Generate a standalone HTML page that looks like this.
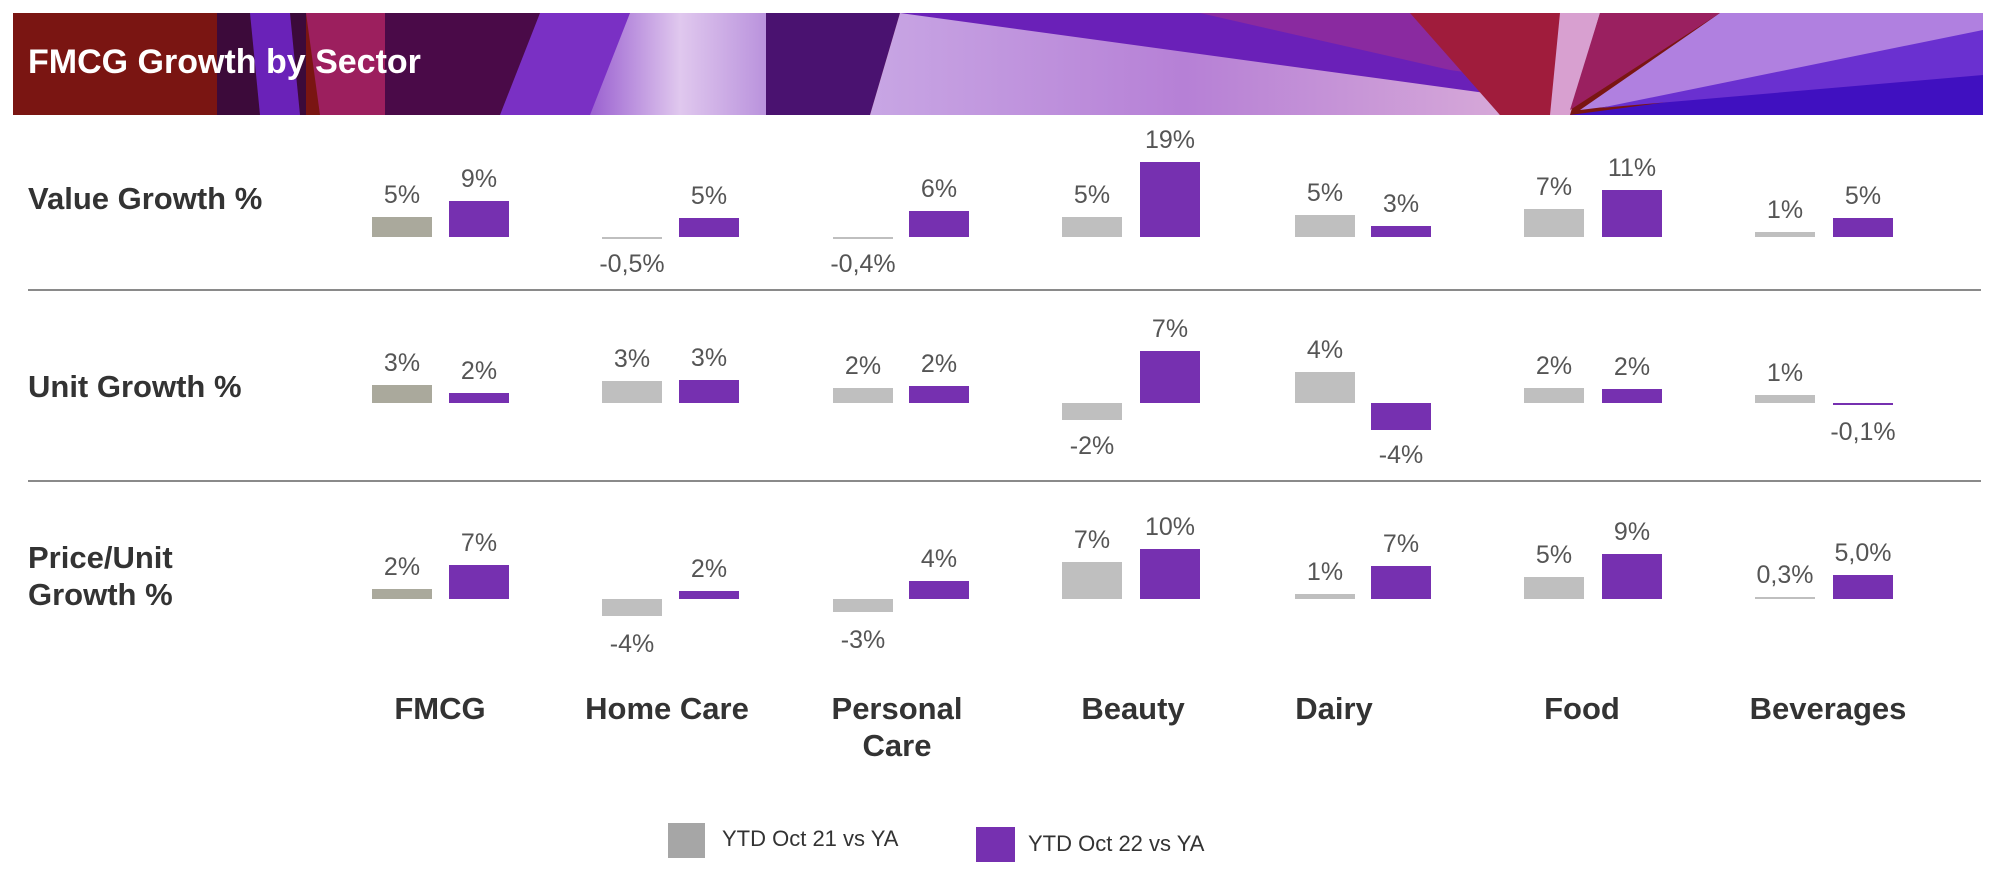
<!DOCTYPE html>
<html><head><meta charset="utf-8"><style>
html,body{margin:0;padding:0;background:#fff;width:2000px;height:891px;overflow:hidden}
svg{display:block}
text{font-family:"Liberation Sans",sans-serif}
</style></head><body>
<svg width="2000" height="891" viewBox="0 0 2000 891" xmlns="http://www.w3.org/2000/svg">
<defs>
<linearGradient id="lav" x1="0" y1="0" x2="1" y2="0"><stop offset="0" stop-color="#c8a6e4"/><stop offset="0.5" stop-color="#b680d6"/><stop offset="1" stop-color="#d6a8d8"/></linearGradient>
<linearGradient id="lav2" x1="0" y1="0" x2="1" y2="0"><stop offset="0" stop-color="#9a60d0"/><stop offset="0.5" stop-color="#e0c8ee"/><stop offset="1" stop-color="#b890dc"/></linearGradient>
<clipPath id="hc"><rect x="13" y="13" width="1970" height="102"/></clipPath>
</defs>
<g clip-path="url(#hc)">
<rect x="13" y="13" width="1970" height="102" fill="#7a1512"/>
<polygon points="217,13 306,13 306,115 217,115" fill="#3c0a3a"/>
<polygon points="250,13 290,13 300,115 260,115" fill="#6a22b8"/>
<polygon points="306,13 385,13 385,115 320,115" fill="#9c1f5e"/>
<polygon points="385,13 540,13 520,115 385,115" fill="#4a0a48"/>
<polygon points="540,13 630,13 600,115 500,115" fill="#7a30c4"/>
<polygon points="630,13 770,13 766,115 590,115" fill="url(#lav2)"/>
<polygon points="766,13 900,13 870,115 766,115" fill="#4a1270"/>
<polygon points="900,13 1420,13 1500,115 870,115" fill="url(#lav)"/>
<polygon points="900,13 1420,13 1500,95" fill="#6a20b8"/>
<polygon points="1200,13 1420,13 1520,80 1450,70" fill="#8a2aa0"/>
<polygon points="1410,13 1560,13 1560,115 1500,115" fill="#a01c3c"/>
<polygon points="1560,13 1600,13 1570,115 1550,115" fill="#d8a0d0"/>
<polygon points="1600,13 1720,13 1570,110" fill="#9a2060"/>
<polygon points="1720,13 1983,13 1983,60 1580,110" fill="#b080e0"/>
<polygon points="1983,60 1983,115 1570,115" fill="#4010c0"/>
<polygon points="1983,30 1983,75 1600,108" fill="#6a30d0"/>
</g>
<text x="28" y="73" font-size="34" font-weight="bold" fill="#fff">FMCG Growth by Sector</text>

<g font-size="31" font-weight="bold" fill="#333">
<text x="28" y="209">Value Growth %</text>
<text x="28" y="397">Unit Growth %</text>
<text x="28" y="568">Price/Unit</text>
<text x="28" y="605">Growth %</text>
</g>
<rect x="28" y="289" width="1953" height="2" fill="#8a8a8a"/>
<rect x="28" y="480" width="1953" height="2" fill="#8a8a8a"/>

<!-- Value row -->
<g fill="#bfbfbf">
<rect x="372" y="217" width="60" height="20" fill="#aaa99c"/>
<rect x="602" y="237" width="60" height="2"/>
<rect x="833" y="237" width="60" height="2"/>
<rect x="1062" y="217" width="60" height="20"/>
<rect x="1295" y="215" width="60" height="22"/>
<rect x="1524" y="209" width="60" height="28"/>
<rect x="1755" y="232" width="60" height="5"/>
</g>
<g fill="#7630b0">
<rect x="449" y="201" width="60" height="36"/>
<rect x="679" y="218" width="60" height="19"/>
<rect x="909" y="211" width="60" height="26"/>
<rect x="1140" y="162" width="60" height="75"/>
<rect x="1371" y="226" width="60" height="11"/>
<rect x="1602" y="190" width="60" height="47"/>
<rect x="1833" y="218" width="60" height="19"/>
</g>
<g font-size="25" fill="#555" text-anchor="middle">
<text x="402" y="203">5%</text><text x="479" y="187">9%</text>
<text x="632" y="272">-0,5%</text><text x="709" y="204">5%</text>
<text x="863" y="272">-0,4%</text><text x="939" y="197">6%</text>
<text x="1092" y="203">5%</text><text x="1170" y="148">19%</text>
<text x="1325" y="201">5%</text><text x="1401" y="212">3%</text>
<text x="1554" y="195">7%</text><text x="1632" y="176">11%</text>
<text x="1785" y="218">1%</text><text x="1863" y="204">5%</text>
</g>

<!-- Unit row -->
<g fill="#bfbfbf">
<rect x="372" y="385" width="60" height="18" fill="#aaa99c"/>
<rect x="602" y="381" width="60" height="22"/>
<rect x="833" y="388" width="60" height="15"/>
<rect x="1062" y="403" width="60" height="17"/>
<rect x="1295" y="372" width="60" height="31"/>
<rect x="1524" y="388" width="60" height="15"/>
<rect x="1755" y="395" width="60" height="8"/>
</g>
<g fill="#7630b0">
<rect x="449" y="393" width="60" height="10"/>
<rect x="679" y="380" width="60" height="23"/>
<rect x="909" y="386" width="60" height="17"/>
<rect x="1140" y="351" width="60" height="52"/>
<rect x="1371" y="403" width="60" height="27"/>
<rect x="1602" y="389" width="60" height="14"/>
<rect x="1833" y="403" width="60" height="2"/>
</g>
<g font-size="25" fill="#555" text-anchor="middle">
<text x="402" y="371">3%</text><text x="479" y="379">2%</text>
<text x="632" y="367">3%</text><text x="709" y="366">3%</text>
<text x="863" y="374">2%</text><text x="939" y="372">2%</text>
<text x="1092" y="454">-2%</text><text x="1170" y="337">7%</text>
<text x="1325" y="358">4%</text><text x="1401" y="463">-4%</text>
<text x="1554" y="374">2%</text><text x="1632" y="375">2%</text>
<text x="1785" y="381">1%</text><text x="1863" y="440">-0,1%</text>
</g>

<!-- Price row -->
<g fill="#bfbfbf">
<rect x="372" y="589" width="60" height="10" fill="#aaa99c"/>
<rect x="602" y="599" width="60" height="17"/>
<rect x="833" y="599" width="60" height="13"/>
<rect x="1062" y="562" width="60" height="37"/>
<rect x="1295" y="594" width="60" height="5"/>
<rect x="1524" y="577" width="60" height="22"/>
<rect x="1755" y="597" width="60" height="2"/>
</g>
<g fill="#7630b0">
<rect x="449" y="565" width="60" height="34"/>
<rect x="679" y="591" width="60" height="8"/>
<rect x="909" y="581" width="60" height="18"/>
<rect x="1140" y="549" width="60" height="50"/>
<rect x="1371" y="566" width="60" height="33"/>
<rect x="1602" y="554" width="60" height="45"/>
<rect x="1833" y="575" width="60" height="24"/>
</g>
<g font-size="25" fill="#555" text-anchor="middle">
<text x="402" y="575">2%</text><text x="479" y="551">7%</text>
<text x="632" y="652">-4%</text><text x="709" y="577">2%</text>
<text x="863" y="648">-3%</text><text x="939" y="567">4%</text>
<text x="1092" y="548">7%</text><text x="1170" y="535">10%</text>
<text x="1325" y="580">1%</text><text x="1401" y="552">7%</text>
<text x="1554" y="563">5%</text><text x="1632" y="540">9%</text>
<text x="1785" y="583">0,3%</text><text x="1863" y="561">5,0%</text>
</g>

<g font-size="31" font-weight="bold" fill="#333" text-anchor="middle">
<text x="440" y="719">FMCG</text>
<text x="667" y="719">Home Care</text>
<text x="897" y="719">Personal</text>
<text x="897" y="756">Care</text>
<text x="1133" y="719">Beauty</text>
<text x="1334" y="719">Dairy</text>
<text x="1582" y="719">Food</text>
<text x="1828" y="719">Beverages</text>
</g>

<rect x="668" y="823" width="37" height="35" fill="#a6a6a6"/>
<text x="722" y="846" font-size="22" fill="#333">YTD Oct 21 vs YA</text>
<rect x="976" y="827" width="39" height="35" fill="#7630b0"/>
<text x="1028" y="851" font-size="22" fill="#333">YTD Oct 22 vs YA</text>
</svg>
</body></html>
